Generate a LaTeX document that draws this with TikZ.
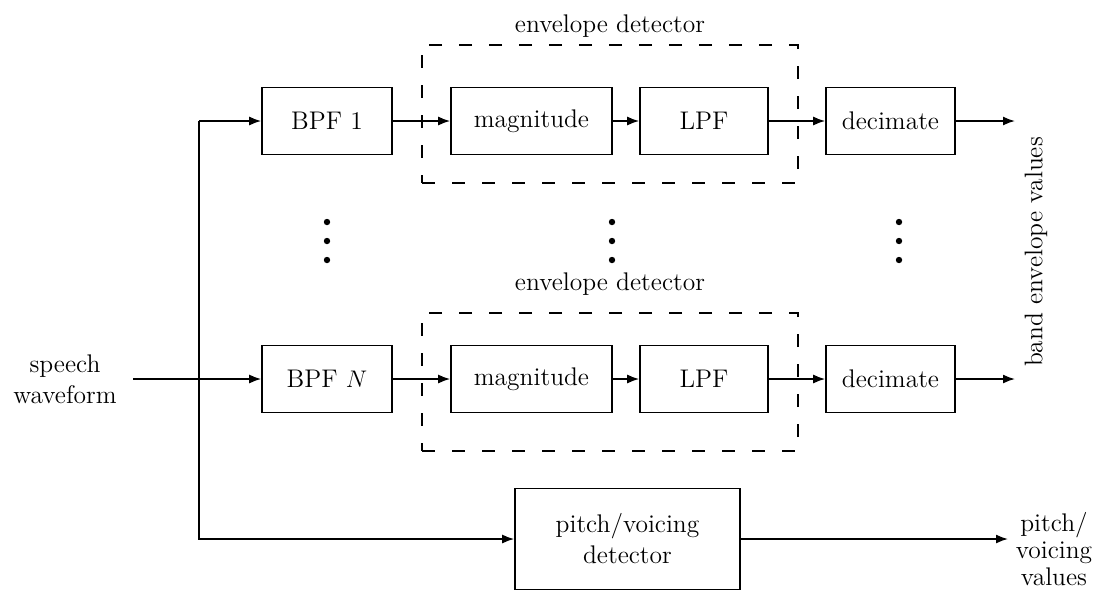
\documentclass[tikz,border=0pt]{standalone}
\usetikzlibrary{arrows.meta}
\begin{document}
\begin{tikzpicture}[x=0.5pt,y=-0.5pt,
  font=\fontsize{12.75}{15.5}\selectfont,
  line width=0.8pt,
  blk/.style={draw, minimum height=33.5pt, inner sep=0pt},
  arr/.style={-{Latex[length=6pt,width=4.5pt]}},
  env/.style={draw, dash pattern=on 6.5pt off 8.5pt, inner sep=0pt, minimum width=188pt, minimum height=69pt},
  lbl/.style={inner sep=0pt}]
\useasboundingbox (0,0) rectangle (1096,591);

% envelope detector frames
\node[env] (d1) at (610,114) {};
\node[env] (d2) at (610,382) {};
\node[lbl] (e1) at (610,26) {envelope detector};
\node[lbl] (e2) at (610,284) {envelope detector};

% top row
\node[blk, minimum width=65pt]   (b1) at (327,121)   {BPF 1};
\node[blk, minimum width=80.5pt] (m1) at (531.5,121) {magnitude};
\node[blk, minimum width=64pt]   (l1) at (704,121)   {LPF};
\node[blk, minimum width=64.5pt] (c1) at (890.5,121) {decimate};

% bottom row
\node[blk, minimum width=65pt]   (b2) at (327,379)   {BPF $N$};
\node[blk, minimum width=80.5pt] (m2) at (531.5,379) {magnitude};
\node[blk, minimum width=64pt]   (l2) at (704,379)   {LPF};
\node[blk, minimum width=64.5pt] (c2) at (890.5,379) {decimate};

% pitch / voicing detector
\node[blk, minimum width=112.5pt, minimum height=50.5pt, align=center] (pv) at (627.5,539) {pitch/voicing\\detector};

% input
\node[align=center, inner xsep=8pt, inner ysep=0pt] (sp) at (65,379) {speech\\waveform};
\coordinate (j1) at (199,121);

% outputs
\coordinate (o1) at (1015,121);
\coordinate (o2) at (1015,379);
\coordinate (o3) at (1008,539);
\node[lbl, rotate=90] (bev) at (1036,252) {band envelope values};
\node[lbl, align=center, font=\fontsize{12.75}{13.5}\selectfont] (pvl) at (1054,549) {pitch/\\voicing\\values};

% connectors
\draw[arr] (sp.east) -- (b2.west);
\draw[arr] (j1) -- (b1.west);
\draw[arr] (j1) |- (pv.west);
\draw[arr] (b1) -- (m1);
\draw[arr] (m1) -- (l1);
\draw[arr] (l1) -- (c1);
\draw[arr] (c1) -- (o1);
\draw[arr] (b2) -- (m2);
\draw[arr] (m2) -- (l2);
\draw[arr] (l2) -- (c2);
\draw[arr] (c2) -- (o2);
\draw[arr] (pv) -- (o3);

% vertical ellipses
\foreach \x in {327,612,899} {
  \foreach \y in {222,241,260} {
    \fill (\x,\y) circle (1.6pt);
  }
}
\end{tikzpicture}
\end{document}
